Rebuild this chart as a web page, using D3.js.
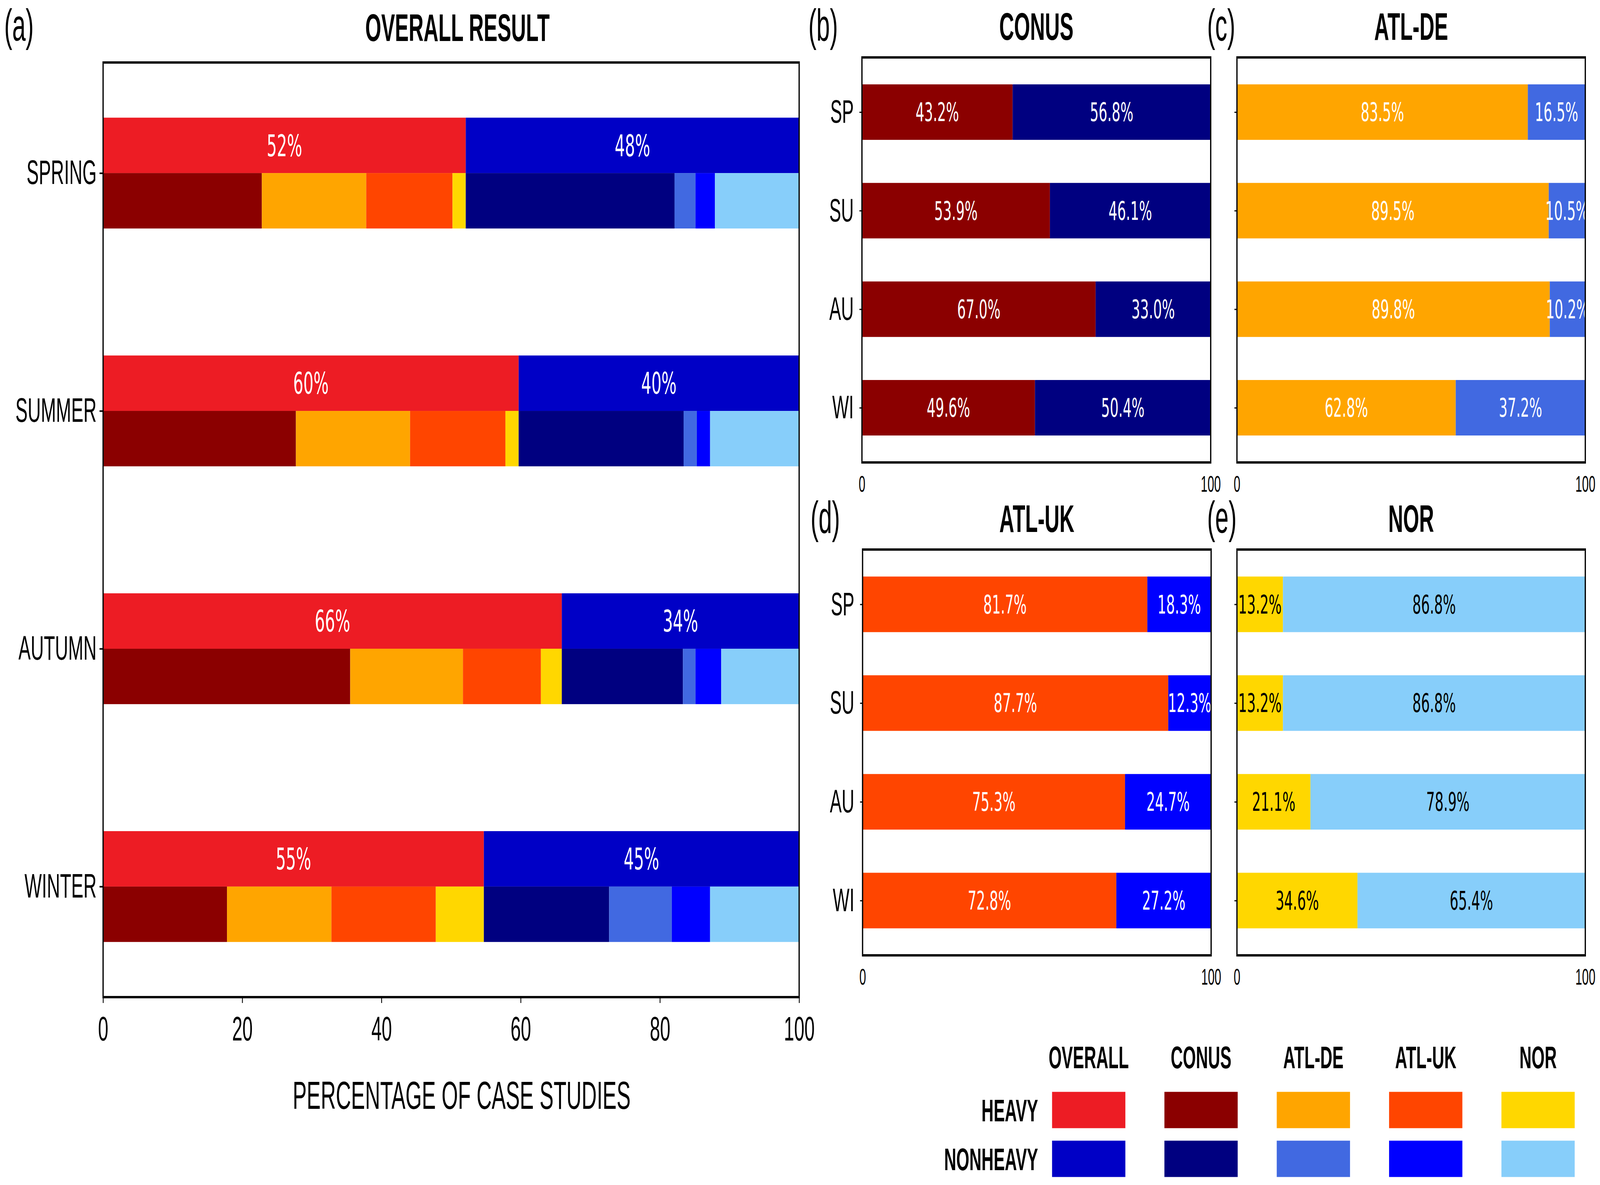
<!DOCTYPE html>
<html>
<head>
<meta charset="utf-8">
<script src="https://cdn.jsdelivr.net/npm/d3@7"></script>
<style>
  html, body { margin: 0; padding: 0; background: #fff; overflow: hidden; }
  svg { display: block; width: 100vw; height: 100vh; }
</style>
</head>
<body>
<svg id="chart" viewBox="0 0 7620 3034" preserveAspectRatio="none"></svg>
<script>
// ---------------- DATA ----------------
const seasons = ["SPRING", "SUMMER", "AUTUMN", "WINTER"];
const seasonAbbr = ["SP", "SU", "AU", "WI"];
const regions = ["CONUS", "ATL-DE", "ATL-UK", "NOR"];
const xTicksOverall = [0, 20, 40, 60, 80, 100];
const xTicksRegion = [0, 100];

// contribution of each region to the overall bars (percentage of all case studies)
const conusHeavyShare    = [22.8, 27.7, 35.5, 17.8];
const atldeHeavyShare    = [15.0, 16.4, 16.2, 15.0];
const atlukHeavyShare    = [12.4, 13.7, 11.2, 15.0];
const norHeavyShare      = [1.9, 1.9, 3.0, 6.9];
const conusNonheavyShare = [30.0, 23.7, 17.4, 18.0];
const atldeNonheavyShare = [3.0, 1.9, 1.8, 9.0];
const atlukNonheavyShare = [2.8, 1.9, 3.7, 5.5];
const norNonheavyShare   = [12.1, 12.8, 11.2, 12.8];

// per-region percentages (SP, SU, AU, WI)
const conusHeavy    = [43.2, 53.9, 67.0, 49.6];
const conusNonheavy = [56.8, 46.1, 33.0, 50.4];
const atldeHeavy    = [83.5, 89.5, 89.8, 62.8];
const atldeNonheavy = [16.5, 10.5, 10.2, 37.2];
const atlukHeavy    = [81.7, 87.7, 75.3, 72.8];
const atlukNonheavy = [18.3, 12.3, 24.7, 27.2];
const norHeavy      = [13.2, 13.2, 21.1, 34.6];
const norNonheavy   = [86.8, 86.8, 78.9, 65.4];

// colours
const overallHeavyColor = "#ED1C24";
const overallNonheavyColor = "#0000C6";
const heavyColors    = ["#8B0000", "#FFA500", "#FF4500", "#FFD700"];
const nonheavyColors = ["#000080", "#4169E1", "#0000FF", "#87CEFA"];

// ---------------- HELPERS ----------------
const svg = d3.select("#chart");
const LAB = "'Liberation Sans', Arial, Helvetica, sans-serif";
const DEJ = "'DejaVu Sans', sans-serif";

function spine(g, x0, x1, y0, y1) {
  g.append("rect").attr("x", x0).attr("y", y0)
    .attr("width", x1 - x0).attr("height", y1 - y0)
    .attr("fill", "none").attr("stroke", "#000").attr("stroke-width", 6);
}

// ---------------- PANEL (a) ----------------
(function () {
  const X0 = 491, X1 = 3806, Y0 = 160, Y1 = 2553;
  const x = d3.scaleLinear().domain([0, 100]).range([X0, X1]);
  const y = d3.scaleLinear().domain([-0.465, 3.465]).range([Y0, Y1]);
  const bh = 0.233;
  const g = svg.append("g");
  const heavyShares = [conusHeavyShare, atldeHeavyShare, atlukHeavyShare, norHeavyShare];
  const nonShares = [conusNonheavyShare, atldeNonheavyShare, atlukNonheavyShare, norNonheavyShare];

  seasons.forEach((s, i) => {
    const hTot = d3.sum(heavyShares, a => a[i]);
    const nTot = d3.sum(nonShares, a => a[i]);
    g.append("rect").attr("x", x(0)).attr("y", y(i - bh))
      .attr("width", x(hTot) - x(0)).attr("height", y(i) - y(i - bh))
      .attr("fill", overallHeavyColor);
    g.append("rect").attr("x", x(hTot)).attr("y", y(i - bh))
      .attr("width", x(hTot + nTot) - x(hTot)).attr("height", y(i) - y(i - bh))
      .attr("fill", overallNonheavyColor);
    g.append("text").attr("x", x(hTot / 2)).attr("y", y(i - bh / 2))
      .attr("dy", "0.36em").attr("text-anchor", "middle")
      .attr("font-family", DEJ).attr("font-size", 76).attr("fill", "#fff")
      .text(Math.round(hTot) + "%");
    g.append("text").attr("x", x(hTot + nTot / 2)).attr("y", y(i - bh / 2))
      .attr("dy", "0.36em").attr("text-anchor", "middle")
      .attr("font-family", DEJ).attr("font-size", 76).attr("fill", "#fff")
      .text(Math.round(nTot) + "%");
    let acc = 0;
    heavyShares.forEach((a, r) => {
      g.append("rect").attr("x", x(acc)).attr("y", y(i))
        .attr("width", x(acc + a[i]) - x(acc)).attr("height", y(i + bh) - y(i))
        .attr("fill", heavyColors[r]);
      acc += a[i];
    });
    nonShares.forEach((a, r) => {
      g.append("rect").attr("x", x(acc)).attr("y", y(i))
        .attr("width", x(acc + a[i]) - x(acc)).attr("height", y(i + bh) - y(i))
        .attr("fill", nonheavyColors[r]);
      acc += a[i];
    });
  });

  const xa = g.append("g").attr("transform", `translate(0,${Y1})`)
    .call(d3.axisBottom(x).tickValues(xTicksOverall).tickFormat(d3.format("d"))
      .tickSize(15).tickPadding(34));
  xa.select(".domain").remove();
  xa.selectAll("line").attr("stroke-width", 4);
  xa.selectAll("text").attr("font-family", LAB).attr("font-size", 88).attr("fill", "#000");

  const yScaleBand = d3.scaleOrdinal().domain(seasons).range(seasons.map((s, i) => y(i)));
  const ya = g.append("g").attr("transform", `translate(${X0},0)`)
    .call(d3.axisLeft(yScaleBand).tickSize(17).tickPadding(14));
  ya.select(".domain").remove();
  ya.selectAll("line").attr("stroke-width", 4);
  ya.selectAll("text").attr("font-family", LAB).attr("font-size", 87).attr("fill", "#000");

  spine(g, X0, X1, Y0, Y1);

  g.append("text").attr("x", (X0 + X1) / 2 + 30).attr("y", 105).attr("text-anchor", "middle")
    .attr("font-family", LAB).attr("font-weight", "bold").attr("font-size", 98)
    .text("OVERALL RESULT");
  g.append("text").attr("x", 20).attr("y", 104)
    .attr("font-family", LAB).attr("font-size", 115).text("(a)");
  g.append("text").attr("x", (X0 + X1) / 2 + 50).attr("y", 2839).attr("text-anchor", "middle")
    .attr("font-family", LAB).attr("font-size", 100)
    .text("PERCENTAGE OF CASE STUDIES");
})();

// ---------------- REGIONAL PANELS (b)-(e) ----------------
function regionPanel(id, letter, letterX, title, heavy, nonheavy, hColor, nColor, textColor, showYLabels, X0, X1, Y0, Y1) {
  const x = d3.scaleLinear().domain([0, 100]).range([X0, X1]);
  const y = d3.scaleLinear().domain([-0.555, 3.555]).range([Y0, Y1]);
  const bh = 0.563;
  const g = svg.append("g");
  g.append("clipPath").attr("id", "clip-" + id)
    .append("rect").attr("x", X0).attr("y", Y0).attr("width", X1 - X0).attr("height", Y1 - Y0);
  const inner = g.append("g").attr("clip-path", `url(#clip-${id})`);

  seasonAbbr.forEach((s, i) => {
    const h = heavy[i], n = nonheavy[i];
    inner.append("rect").attr("x", x(0)).attr("y", y(i - bh / 2))
      .attr("width", x(h) - x(0)).attr("height", y(i + bh / 2) - y(i - bh / 2))
      .attr("fill", hColor);
    inner.append("rect").attr("x", x(h)).attr("y", y(i - bh / 2))
      .attr("width", x(h + n) - x(h)).attr("height", y(i + bh / 2) - y(i - bh / 2))
      .attr("fill", nColor);
    inner.append("text").attr("x", x(h / 2)).attr("y", y(i)).attr("dy", "0.36em")
      .attr("text-anchor", "middle").attr("font-family", DEJ).attr("font-size", 65)
      .attr("fill", textColor).text(h.toFixed(1) + "%");
    inner.append("text").attr("x", x(h + n / 2)).attr("y", y(i)).attr("dy", "0.36em")
      .attr("text-anchor", "middle").attr("font-family", DEJ).attr("font-size", 65)
      .attr("fill", textColor).text(n.toFixed(1) + "%");
  });

  const xa = g.append("g").attr("transform", `translate(0,${Y1})`)
    .call(d3.axisBottom(x).tickValues(xTicksRegion).tickFormat(d3.format("d"))
      .tickSize(0).tickPadding(35));
  xa.select(".domain").remove();
  xa.selectAll("text").attr("font-family", LAB).attr("font-size", 57).attr("fill", "#000");

  const ys = d3.scaleOrdinal().domain(seasonAbbr).range(seasonAbbr.map((s, i) => y(i)));
  const ya = g.append("g").attr("transform", `translate(${X0},0)`)
    .call(d3.axisLeft(ys).tickSize(12).tickPadding(27)
      .tickFormat(d => showYLabels ? d : ""));
  ya.select(".domain").remove();
  ya.selectAll("line").attr("stroke-width", 3);
  ya.selectAll("text").attr("font-family", LAB).attr("font-size", 84).attr("fill", "#000");

  spine(g, X0, X1, Y0, Y1);

  g.append("text").attr("x", (X0 + X1) / 2).attr("y", Y0 - 45).attr("text-anchor", "middle")
    .attr("font-family", LAB).attr("font-weight", "bold").attr("font-size", 98).text(title);
  g.append("text").attr("x", letterX).attr("y", Y0 - 43)
    .attr("font-family", LAB).attr("font-size", 115).text(letter);
}

regionPanel("b", "(b)", 3850, "CONUS", conusHeavy, conusNonheavy, heavyColors[0], nonheavyColors[0], "#fff", true, 4105, 5766, 147, 1184);
regionPanel("c", "(c)", 5749, "ATL-DE", atldeHeavy, atldeNonheavy, heavyColors[1], nonheavyColors[1], "#fff", false, 5891, 7550, 147, 1184);
regionPanel("d", "(d)", 3860, "ATL-UK", atlukHeavy, atlukNonheavy, heavyColors[2], nonheavyColors[2], "#fff", true, 4108, 5768, 1407, 2446);
regionPanel("e", "(e)", 5749, "NOR", norHeavy, norNonheavy, heavyColors[3], nonheavyColors[3], "#000", false, 5891, 7550, 1407, 2446);

// ---------------- LEGEND ----------------
(function () {
  const legendCols = ["OVERALL"].concat(regions);
  const legendHeavy = [overallHeavyColor].concat(heavyColors);
  const legendNon = [overallNonheavyColor].concat(nonheavyColors);
  const rowLabels = ["HEAVY", "NONHEAVY"];
  const colX = d3.scalePoint().domain(legendCols).range([5185, 7325]);
  const rowY = d3.scalePoint().domain(rowLabels).range([2842, 2967]);
  const g = svg.append("g");
  const sw = 349, sh = 93;
  legendCols.forEach((c, k) => {
    g.append("text").attr("x", colX(c)).attr("y", 2735).attr("text-anchor", "middle")
      .attr("font-family", LAB).attr("font-weight", "bold").attr("font-size", 80).text(c);
    g.append("rect").attr("x", colX(c) - sw / 2).attr("y", rowY("HEAVY") - sh / 2)
      .attr("width", sw).attr("height", sh).attr("fill", legendHeavy[k]);
    g.append("rect").attr("x", colX(c) - sw / 2).attr("y", rowY("NONHEAVY") - sh / 2)
      .attr("width", sw).attr("height", sh).attr("fill", legendNon[k]);
  });
  rowLabels.forEach(r => {
    g.append("text").attr("x", 4944).attr("y", rowY(r)).attr("dy", "0.36em")
      .attr("text-anchor", "end").attr("font-family", LAB).attr("font-weight", "bold")
      .attr("font-size", 80).text(r);
  });
})();
</script>
</body>
</html>
